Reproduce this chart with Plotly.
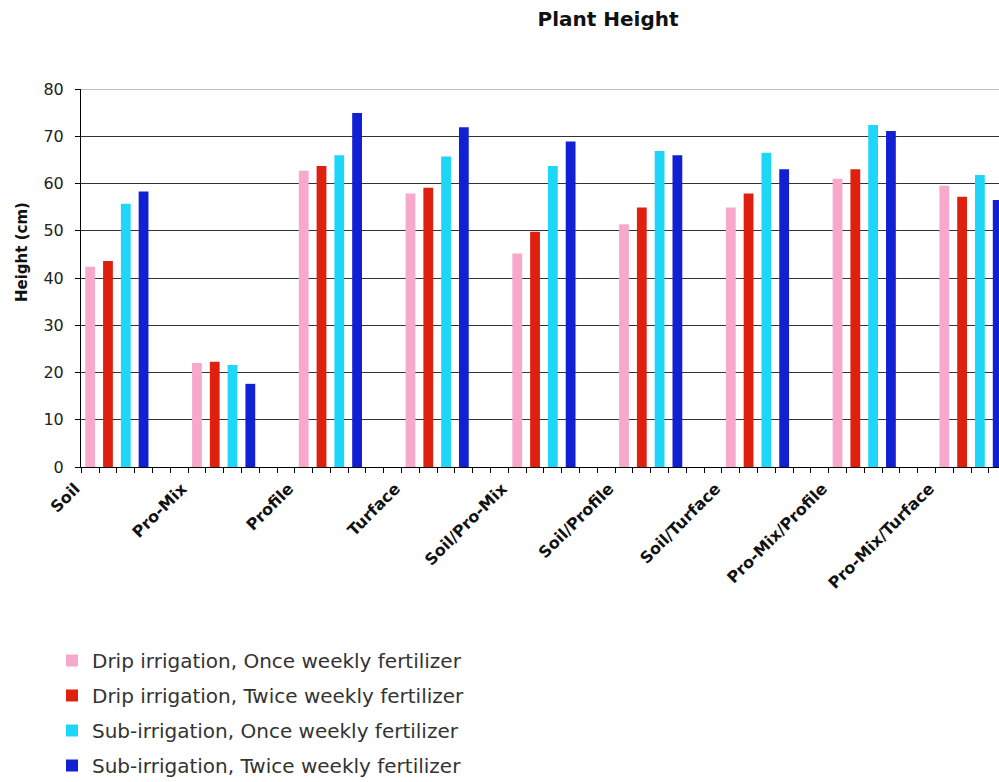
import plotly.graph_objects as go

categories = ["Soil", "Pro-Mix", "Profile", "Turface", "Soil/Pro-Mix",
              "Soil/Profile", "Soil/Turface", "Pro-Mix/Profile", "Pro-Mix/Turface"]
series_names = ["Drip irrigation, Once weekly fertilizer",
                "Drip irrigation, Twice weekly fertilizer",
                "Sub-irrigation, Once weekly fertilizer",
                "Sub-irrigation, Twice weekly fertilizer"]
drip_once = [42.4, 22.0, 62.7, 57.9, 45.2, 51.4, 54.9, 61.0, 59.5]
drip_twice = [43.6, 22.3, 63.7, 59.1, 49.8, 54.9, 57.9, 63.0, 57.2]
sub_once = [55.7, 21.6, 66.0, 65.7, 63.7, 66.9, 66.5, 72.4, 61.8]
sub_twice = [58.3, 17.6, 74.9, 71.9, 68.9, 66.0, 63.0, 71.1, 56.5]
colors = ["#F7A9CB", "#E0200E", "#1ED6F7", "#1020D2"]
y_ticks = [0, 10, 20, 30, 40, 50, 60, 70, 80]

W, H = 999, 782
L, T, B = 81, 89, 315
x = list(range(len(categories)))
fig = go.Figure()
for i, (name, vals, col) in enumerate(zip(series_names,
                                         [drip_once, drip_twice, sub_once, sub_twice],
                                         colors)):
    fig.add_trace(go.Bar(x=x, y=vals, name=name, marker=dict(color=col, line=dict(width=0)),
                         legendgroup=f"g{i}", offsetgroup=str(i)))

font_main = "DejaVu Sans, Verdana, sans-serif"
fig.update_layout(
    width=W, height=H,
    margin=dict(l=L, r=0, t=T, b=B, autoexpand=False),
    paper_bgcolor="white", plot_bgcolor="white",
    barmode="group", bargap=1/3, bargroupgap=0.45,
    font=dict(family=font_main, color="#222"),
    title=dict(text="<b>Plant Height</b>", x=608/W, xref="container", xanchor="center",
               y=1 - 19/H, yref="container", yanchor="middle",
               font=dict(size=20, color="#111")),
    showlegend=True,
    legend=dict(x=52/W, xref="container", y=1 - 641/H, yref="container",
                xanchor="left", yanchor="top", orientation="v",
                font=dict(size=20, color="#333"), tracegroupgap=6,
                itemwidth=30, bgcolor="rgba(0,0,0,0)"),
    xaxis=dict(range=[-0.336, (999 - 117) / 106.75], showgrid=False, zeroline=False,
               tickmode="array", tickvals=[i - 1/3 for i in x], ticktext=categories,
               tickangle=-45, ticks="outside", ticklen=5, tickcolor="black",
               ticklabelshift=-6,
               tickfont=dict(size=16, color="#111", weight="bold"),
               showline=True, linecolor="black", linewidth=1,
               minor=dict(tick0=-1/3, dtick=1/6, ticks="outside", ticklen=5,
                          tickcolor="black", showgrid=False)),
    yaxis=dict(range=[0, 80], tickvals=y_ticks, showgrid=True, gridcolor="#333",
               gridwidth=1, zeroline=False, showline=True, linecolor="black", linewidth=1,
               ticks="outside", ticklen=5, tickcolor="black", ticklabelstandoff=8,
               tickfont=dict(size=16, color="#222")),
)
fig.add_annotation(text="<b>Height (cm)</b>", textangle=-90, showarrow=False,
                   xref="paper", yref="paper", x=(22 - L) / (W - L),
                   y=(467 - 252) / (467 - 89),
                   xanchor="center", yanchor="middle",
                   font=dict(size=15, color="#111"))
fig.add_shape(type="line", xref="paper", yref="y", x0=0, x1=1, y0=80, y1=80,
              line=dict(color="#AAAAAA", width=1.5), layer="above")
fig.write_html("out.html")
